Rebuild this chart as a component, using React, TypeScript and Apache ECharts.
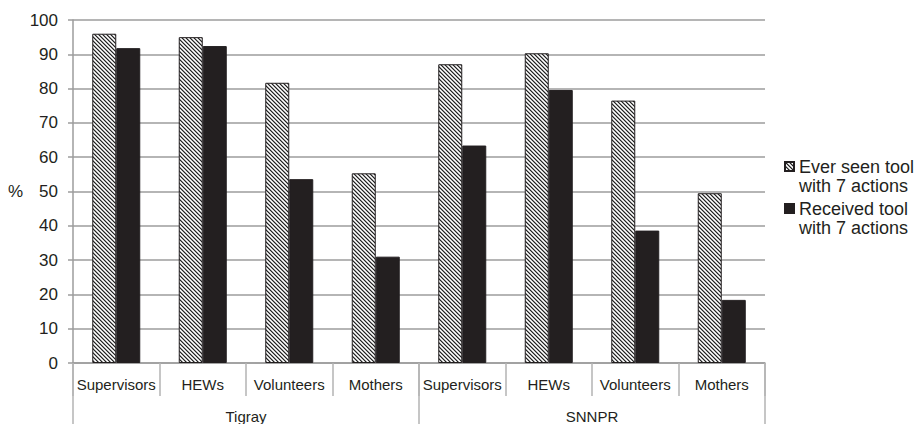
import { useEffect, useRef } from 'react';
import * as echarts from 'echarts';

const categories = ['Supervisors', 'HEWs', 'Volunteers', 'Mothers', 'Supervisors', 'HEWs', 'Volunteers', 'Mothers'];
const regions = ['Tigray', 'SNNPR'];
const seriesNames = ['Ever seen tool with 7 actions', 'Received tool with 7 actions'];
const legendLines: Record<string, string[]> = {
  'Ever seen tool with 7 actions': ['Ever seen tool', 'with 7 actions'],
  'Received tool with 7 actions': ['Received tool', 'with 7 actions'],
};
const everSeen = [96.0, 95.0, 81.7, 55.3, 87.1, 90.3, 76.5, 49.5];
const received = [91.8, 92.4, 53.6, 31.0, 63.4, 79.6, 38.6, 18.4];

export default function App() {
  const ref = useRef<HTMLDivElement>(null);
  useEffect(() => {
    document.body.style.margin = '0';
    const chart = echarts.init(ref.current!, null, { renderer: 'svg' });
    const canvas = document.createElement('canvas');
    const S = 4;
    canvas.width = S;
    canvas.height = S;
    const ctx = canvas.getContext('2d')!;
    const img = ctx.createImageData(S, S);
    for (let y = 0; y < S; y++) {
      for (let x = 0; x < S; x++) {
        const d = (((x - y) % S) + S) % S;
        const v = d === 0 ? 35 : d === 1 ? 150 : d === 3 ? 200 : 255;
        const i = (y * S + x) * 4;
        img.data[i] = v;
        img.data[i + 1] = v;
        img.data[i + 2] = v;
        img.data[i + 3] = 255;
      }
    }
    ctx.putImageData(img, 0, 0);
    const hatch: any = { image: canvas, repeat: 'repeat' };
    const font = '"Liberation Sans", Arial, Helvetica, sans-serif';
    const ink = '#231f20';
    const gridGray = '#9d9d9d';
    const tickGray = '#b3b3b3';

    chart.setOption({
      animation: false,
      textStyle: { fontFamily: font, color: ink },
      grid: { left: 73, right: 152, top: 20, bottom: 61, containLabel: false },
      xAxis: [
        {
          type: 'category',
          data: categories,
          axisLine: { show: true, lineStyle: { color: gridGray, width: 1.5 } },
          axisTick: { show: true, length: 33, lineStyle: { color: tickGray, width: 1.5 } },
          axisLabel: { interval: 0, fontSize: 15, color: ink, margin: 14, fontFamily: font },
          splitLine: { show: false },
        },
        {
          type: 'category',
          data: regions,
          position: 'bottom',
          axisLine: { show: false },
          axisTick: { show: true, length: 61, lineStyle: { color: tickGray, width: 1.5 } },
          axisLabel: { interval: 0, fontSize: 15, color: ink, margin: 46, fontFamily: font },
          splitLine: { show: false },
        },
      ],
      yAxis: {
        type: 'value',
        min: 0,
        max: 100,
        interval: 10,
        name: '%',
        nameLocation: 'middle',
        nameRotate: 0,
        nameGap: 50,
        nameTextStyle: { fontSize: 17, color: ink, fontFamily: font },
        axisLine: { show: true, lineStyle: { color: gridGray, width: 1.5 } },
        axisTick: { show: true, length: 5, lineStyle: { color: gridGray, width: 1.5 } },
        axisLabel: { fontSize: 17, color: ink, margin: 15, fontFamily: font },
        splitLine: { show: true, lineStyle: { color: gridGray, width: 1.5 } },
      },
      legend: {
        orient: 'vertical',
        left: 784,
        top: 138,
        padding: 0,
        itemWidth: 9,
        itemHeight: 9,
        itemGap: -15,
        icon: 'rect',
        data: seriesNames,
        formatter: (n: string) => legendLines[n].map((l) => '{a|' + l + '}').join('\n'),
        textStyle: {
          fontSize: 18,
          color: ink,
          fontFamily: font,
          lineHeight: 19,
          padding: [19, 0, 0, 0],
          rich: { a: { align: 'left', fontSize: 18, lineHeight: 19, color: ink, fontFamily: font } },
        },
      },
      series: [
        {
          name: seriesNames[0],
          type: 'bar',
          data: everSeen,
          barWidth: 24,
          barGap: '0%',
          itemStyle: { color: hatch, borderColor: ink, borderWidth: 1 },
        },
        {
          name: seriesNames[1],
          type: 'bar',
          data: received,
          barWidth: 24,
          barGap: '0%',
          itemStyle: { color: ink, borderColor: ink, borderWidth: 1 },
        },
      ],
    });
    return () => chart.dispose();
  }, []);
  return <div ref={ref} style={{ width: 917, height: 424 }} />;
}
